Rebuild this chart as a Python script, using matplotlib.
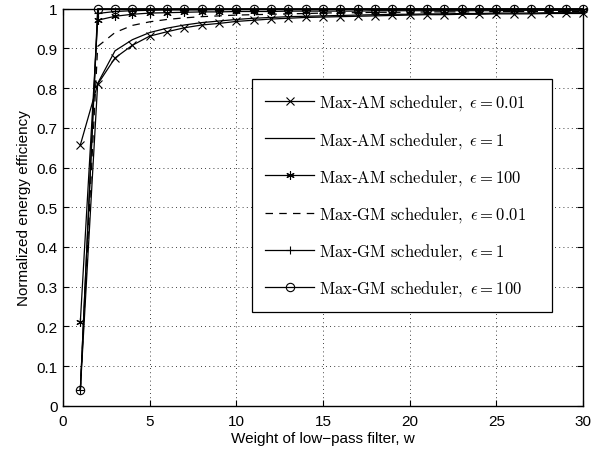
import matplotlib
matplotlib.use("Agg")
import matplotlib.pyplot as plt
import numpy as np

w = list(range(1, 31))
am_001 = [0.657, 0.810, 0.876, 0.908, 0.931, 0.942, 0.952, 0.959, 0.963, 0.968,
          0.971, 0.974, 0.976, 0.978, 0.979, 0.980, 0.981, 0.982, 0.983, 0.984,
          0.985, 0.985, 0.986, 0.986, 0.987, 0.987, 0.987, 0.988, 0.988, 0.988]
am_1 = [0.040, 0.812, 0.894, 0.922, 0.940, 0.951, 0.959, 0.965, 0.969, 0.973,
        0.976, 0.978, 0.980, 0.981, 0.982, 0.983, 0.984, 0.985, 0.986, 0.986,
        0.987, 0.987, 0.988, 0.988, 0.989, 0.989, 0.989, 0.990, 0.990, 0.990]
am_100 = [0.212, 0.971, 0.981, 0.986, 0.989, 0.990, 0.991, 0.992, 0.992, 0.993,
          0.993, 0.993, 0.994, 0.994, 0.994, 0.994, 0.994, 0.995, 0.995, 0.995,
          0.995, 0.995, 0.995, 0.995, 0.995, 0.996, 0.996, 0.996, 0.996, 0.996]
gm_001 = [0.040, 0.905, 0.940, 0.958, 0.967, 0.973, 0.977, 0.980, 0.982, 0.984,
          0.985, 0.986, 0.987, 0.988, 0.989, 0.990, 0.990, 0.991, 0.991, 0.991,
          0.992, 0.992, 0.992, 0.992, 0.993, 0.993, 0.993, 0.993, 0.993, 0.993]
gm_1 = [0.040, 0.988, 0.993, 0.995, 0.996, 0.997, 0.997, 0.997, 0.998, 0.998,
        0.998, 0.998, 0.998, 0.998, 0.998, 0.999, 0.999, 0.999, 0.999, 0.999,
        0.999, 0.999, 0.999, 0.999, 0.999, 0.999, 0.999, 0.999, 0.999, 0.999]
gm_100 = [0.040, 1.000, 1.000, 1.000, 1.000, 1.000, 1.000, 1.000, 1.000, 1.000,
          1.000, 1.000, 1.000, 1.000, 1.000, 1.000, 1.000, 1.000, 1.000, 1.000,
          1.000, 1.000, 1.000, 1.000, 1.000, 1.000, 1.000, 1.000, 1.000, 1.000]

labels = [r'$\mathrm{Max}$-$\mathrm{AM\ scheduler,}\ \epsilon = 0.01$',
          r'$\mathrm{Max}$-$\mathrm{AM\ scheduler,}\ \epsilon = 1$',
          r'$\mathrm{Max}$-$\mathrm{AM\ scheduler,}\ \epsilon = 100$',
          r'$\mathrm{Max}$-$\mathrm{GM\ scheduler,}\ \epsilon = 0.01$',
          r'$\mathrm{Max}$-$\mathrm{GM\ scheduler,}\ \epsilon = 1$',
          r'$\mathrm{Max}$-$\mathrm{GM\ scheduler,}\ \epsilon = 100$']
xticks = [0, 5, 10, 15, 20, 25, 30]
yticks = [0, 0.1, 0.2, 0.3, 0.4, 0.5, 0.6, 0.7, 0.8, 0.9, 1]
ytick_labels = ['0', '0.1', '0.2', '0.3', '0.4', '0.5', '0.6', '0.7', '0.8', '0.9', '1']

plt.rcParams['font.family'] = ['Liberation Sans', 'DejaVu Sans']
plt.rcParams['mathtext.fontset'] = 'cm'

fig = plt.figure(figsize=(6.0, 4.52), dpi=100)
ax = fig.add_axes([0.105, 0.100, 0.867, 0.8785])

series = [am_001, am_1, am_100, gm_001, gm_1, gm_100]
styles = [dict(marker='x', ls='-'),
          dict(marker=None, ls='-'),
          dict(marker=(6, 2, 0), ls='-'),
          dict(marker=None, ls=(0, (6, 5))),
          dict(marker='+', ls='-'),
          dict(marker='o', ls='-')]
for ys, st, lab in zip(series, styles, labels):
    ax.plot(w, ys, color='black', lw=0.9, linestyle=st['ls'], marker=st['marker'],
            markersize=6, markerfacecolor='none', markeredgewidth=0.8,
            label=lab, clip_on=False)

ax.set_xlim(0, 30)
ax.set_ylim(0, 1)
ax.set_xticks(xticks)
ax.set_xticklabels([str(t) for t in xticks])
ax.set_yticks(yticks)
ax.set_yticklabels(ytick_labels)
ax.tick_params(direction='in', top=True, right=True, labelsize=11, length=4, width=0.8)
ax.tick_params(axis='x', pad=6)
ax.tick_params(axis='y', pad=4)
ax.grid(True, color='black', linestyle=(0, (1, 4)), linewidth=0.6)
for s in ax.spines.values():
    s.set_linewidth(1.0)
ax.set_xlabel('Weight of low\u2212pass filter, w', fontsize=11, labelpad=2)
ax.set_ylabel('Normalized energy efficiency', fontsize=11, labelpad=4)

leg = ax.legend(loc='upper left', bbox_to_anchor=(0.3635, 0.236, 0.5765, 0.587),
                mode='expand', borderaxespad=0, fontsize=12,
                handlelength=2.9, labelspacing=1.03, borderpad=0.8,
                handletextpad=0.3, fancybox=False, framealpha=1,
                edgecolor='black')
leg.get_frame().set_linewidth(0.9)

fig.savefig('out.png', dpi=100)
